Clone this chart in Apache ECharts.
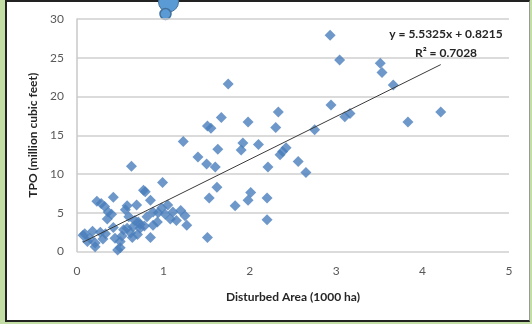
<!DOCTYPE html>
<html>
<head>
<meta charset="utf-8">
<script src="https://cdn.jsdelivr.net/npm/echarts@6/dist/echarts.min.js"></script>
<style>
body { margin: 0; background: #c3dea5; }
.frame {
  position: absolute; left: 5px; top: 0; width: 522px; height: 318px;
  background: #fff;
  border-left: 2px solid #222; border-top: 2px solid #222;
  border-bottom: 2px solid #222; border-right: 1px solid #999;
}
#main { position: absolute; left: 0; top: 0; width: 532px; height: 324px; }
</style>
</head>
<body>
<div class="frame"></div>
<div id="main"></div>
<script>
// disturbed area (1000 ha) vs TPO (million cubic feet)
var areaValues = [
  2.93, 3.04, 3.51, 3.53, 3.66, 1.75, 2.94, 3.10, 3.16, 4.21,
  3.83, 2.75, 2.33, 1.67, 1.51, 1.55, 1.98, 2.30, 1.63, 1.92,
  1.90, 2.10, 2.42, 2.38, 2.35, 1.23, 1.40, 1.50, 1.60, 2.21,
  2.56, 2.65, 0.63, 0.99, 1.62, 1.53, 1.83, 2.01, 1.98, 2.20,
  2.20, 1.51, 0.42, 0.77, 0.85, 0.23, 0.28, 0.32, 0.58, 0.69,
  0.36, 0.40, 0.35, 1.05, 0.88, 0.94, 1.11, 1.20, 1.25, 1.27,
  1.08, 0.81, 0.93, 0.88, 0.85, 0.09, 0.15, 0.21, 0.21, 0.27,
  0.30, 0.42, 0.44, 0.47, 0.58, 0.62, 0.65, 0.70, 0.73, 0.67,
  0.71, 0.73, 0.78, 0.18, 0.12, 0.33, 0.54, 0.60, 0.64, 0.50,
  1.02, 1.15, 0.98, 0.52, 0.79, 0.56, 0.07, 0.50
]
var tpoValues = [
  27.9, 24.7, 24.3, 23.1, 21.5, 21.6, 18.9, 17.4, 17.8, 18.0,
  16.7, 15.7, 18.0, 17.3, 16.2, 15.9, 16.7, 16.0, 13.2, 14.0,
  13.1, 13.8, 13.4, 12.9, 12.5, 14.2, 12.2, 11.3, 10.9, 10.9,
  11.6, 10.2, 11.0, 8.9, 8.3, 6.9, 5.9, 7.6, 6.6, 6.9,
  4.1, 1.8, 7.0, 7.9, 6.6, 6.5, 6.2, 5.8, 5.9, 6.0,
  5.1, 4.8, 4.2, 6.0, 5.1, 5.0, 5.1, 5.3, 4.6, 3.4,
  4.2, 4.5, 3.8, 3.4, 1.8, 2.3, 1.7, 1.1, 0.6, 2.5,
  1.6, 3.1, 1.7, 0.2, 3.0, 2.4, 3.2, 2.2, 3.0, 4.0,
  3.8, 3.5, 3.3, 2.6, 1.3, 2.3, 2.8, 4.5, 1.8, 1.3,
  4.8, 4.0, 5.6, 2.0, 7.7, 5.4, 2.1, 0.5
]
var xTicks = [0, 1, 2, 3, 4, 5]
var yTicks = [0, 5, 10, 15, 20, 25, 30]
var slope = 5.5325
var intercept = 0.8215
var r2 = 0.7028

var points = areaValues.map(function (x, i) { return [x, tpoValues[i]] })
var xMin = Math.min.apply(null, areaValues)
var xMax = Math.max.apply(null, areaValues)
var trend = [[xMin, slope * xMin + intercept], [xMax, slope * xMax + intercept]]

var chart = echarts.init(document.getElementById('main'))
var font = 'Lato, "Open Sans", sans-serif'

chart.setOption({
  animation: false,
  grid: { left: 77, right: 23, top: 19, bottom: 72.5 },
  xAxis: {
    type: 'value',
    min: xTicks[0], max: xTicks[xTicks.length - 1], interval: 1,
    name: 'Disturbed Area (1000 ha)',
    nameLocation: 'middle', nameGap: 40,
    nameTextStyle: { fontFamily: font, fontWeight: 'bold', fontSize: 12, color: '#262626' },
    axisLine: { show: false },
    axisTick: { show: false },
    splitLine: { show: false },
    axisLabel: { fontFamily: font, fontSize: 12, color: '#595959', margin: 14 }
  },
  yAxis: {
    type: 'value',
    min: yTicks[0], max: yTicks[yTicks.length - 1], interval: 5,
    name: 'TPO (million cubic feet)',
    nameLocation: 'middle', nameGap: 38,
    nameTextStyle: { fontFamily: font, fontWeight: 'bold', fontSize: 12, color: '#262626' },
    axisLine: { show: true, lineStyle: { color: '#c8c8c8', width: 1.5 } },
    axisTick: { show: false },
    splitLine: { show: true, lineStyle: { color: '#cfcfcf', width: 1.5 } },
    axisLabel: { fontFamily: font, fontSize: 12, color: '#595959', margin: 13 }
  },
  series: [
    {
      type: 'scatter',
      data: points,
      symbol: 'diamond',
      symbolSize: 11,
      itemStyle: { color: '#4a7ebb' },
      z: 2
    },
    {
      type: 'line',
      data: trend,
      symbol: 'none',
      lineStyle: { color: '#3a3a3a', width: 1 },
      z: 3
    }
  ],
  graphic: [
    {
      type: 'text', x: 446, y: 25,
      style: {
        text: 'y = ' + slope + 'x + ' + intercept + '\nR² = ' + r2,
        align: 'center', lineHeight: 19,
        font: 'bold 12px ' + font, fill: '#262626'
      }
    },
    {
      type: 'circle', shape: { cx: 168.5, cy: 2, r: 10 },
      style: { fill: '#5b9bd5', stroke: '#41719c', lineWidth: 1 }
    },
    {
      type: 'circle', shape: { cx: 165.5, cy: 14, r: 5.5 },
      style: { fill: '#5b9bd5', stroke: '#41719c', lineWidth: 1.5 }
    }
  ]
})
</script>
</body>
</html>
